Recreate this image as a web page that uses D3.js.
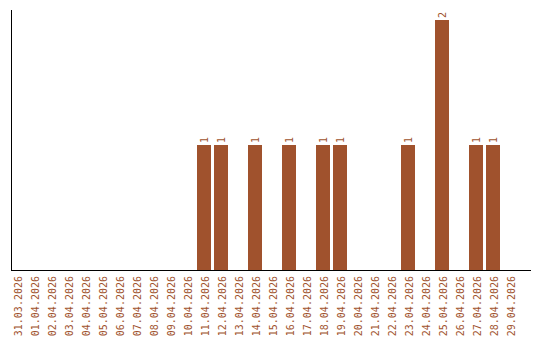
<!DOCTYPE html>
<html>
<head>
<meta charset="utf-8">
<script src="https://cdn.jsdelivr.net/npm/d3@7/dist/d3.min.js"></script>
<style>
  body { margin: 0; background: #fff; }
  text { font-family: "DejaVu Sans Mono", monospace; font-size: 10px; fill: #a0522d; }
</style>
</head>
<body>
<script>
//data
var dates = ["31.03.2026", "01.04.2026", "02.04.2026", "03.04.2026", "04.04.2026", "05.04.2026",
             "06.04.2026", "07.04.2026", "08.04.2026", "09.04.2026", "10.04.2026", "11.04.2026",
             "12.04.2026", "13.04.2026", "14.04.2026", "15.04.2026", "16.04.2026", "17.04.2026",
             "18.04.2026", "19.04.2026", "20.04.2026", "21.04.2026", "22.04.2026", "23.04.2026",
             "24.04.2026", "25.04.2026", "26.04.2026", "27.04.2026", "28.04.2026", "29.04.2026"];
var counts = [0, 0, 0, 0, 0, 0, 0, 0, 0, 0, 0, 1, 1, 0, 1, 0, 1, 0, 1, 1, 0, 0, 0, 1, 0, 2, 0, 1, 1, 0];

//config
var barColor = "#a0522d";
var baseY = 270;

var svg = d3.select("body").append("svg")
            .attr("width", 540)
            .attr("height", 340);

//step of 17px, bars 14px wide
var x = d3.scaleBand()
          .domain(dates)
          .range([10, 517])
          .paddingInner(3 / 17)
          .paddingOuter(0);

var y = d3.scaleLinear()
          .domain([0, 2])
          .range([baseY, 20]);

var rows = dates.map(function(d, i) { return {date: d, value: counts[i]}; });

//bars
svg.selectAll("rect.bar")
   .data(rows.filter(function(d) { return d.value > 0; }))
   .enter()
   .append("rect")
   .attr("class", "bar")
   .attr("x", function(d) { return x(d.date); })
   .attr("y", function(d) { return y(d.value); })
   .attr("width", x.bandwidth())
   .attr("height", function(d) { return baseY - y(d.value); })
   .style("fill", barColor);

//value labels over the bars
svg.selectAll("text.value")
   .data(rows.filter(function(d) { return d.value > 0; }))
   .enter()
   .append("text")
   .attr("class", "value")
   .attr("transform", function(d) {
       return "translate(" + (x(d.date) + x.bandwidth() / 2) + "," + (y(d.value) - 2) + ") rotate(-90)";
   })
   .attr("dy", "0.35em")
   .text(function(d) { return d.value; });

//axes lines
svg.append("line")
   .attr("x1", 11.5).attr("x2", 11.5)
   .attr("y1", 10).attr("y2", baseY + 0.5)
   .style("stroke", "#000");
svg.append("line")
   .attr("x1", 11).attr("x2", 531)
   .attr("y1", baseY + 0.5).attr("y2", baseY + 0.5)
   .style("stroke", "#000");

//date labels
svg.selectAll("text.date")
   .data(dates)
   .enter()
   .append("text")
   .attr("class", "date")
   .attr("text-anchor", "end")
   .attr("transform", function(d) {
       return "translate(" + (x(d) + x.bandwidth() / 2 + 1) + "," + (baseY + 6) + ") rotate(-90)";
   })
   .attr("dy", "0.35em")
   .text(function(d) { return d; });
</script>
</body>
</html>
